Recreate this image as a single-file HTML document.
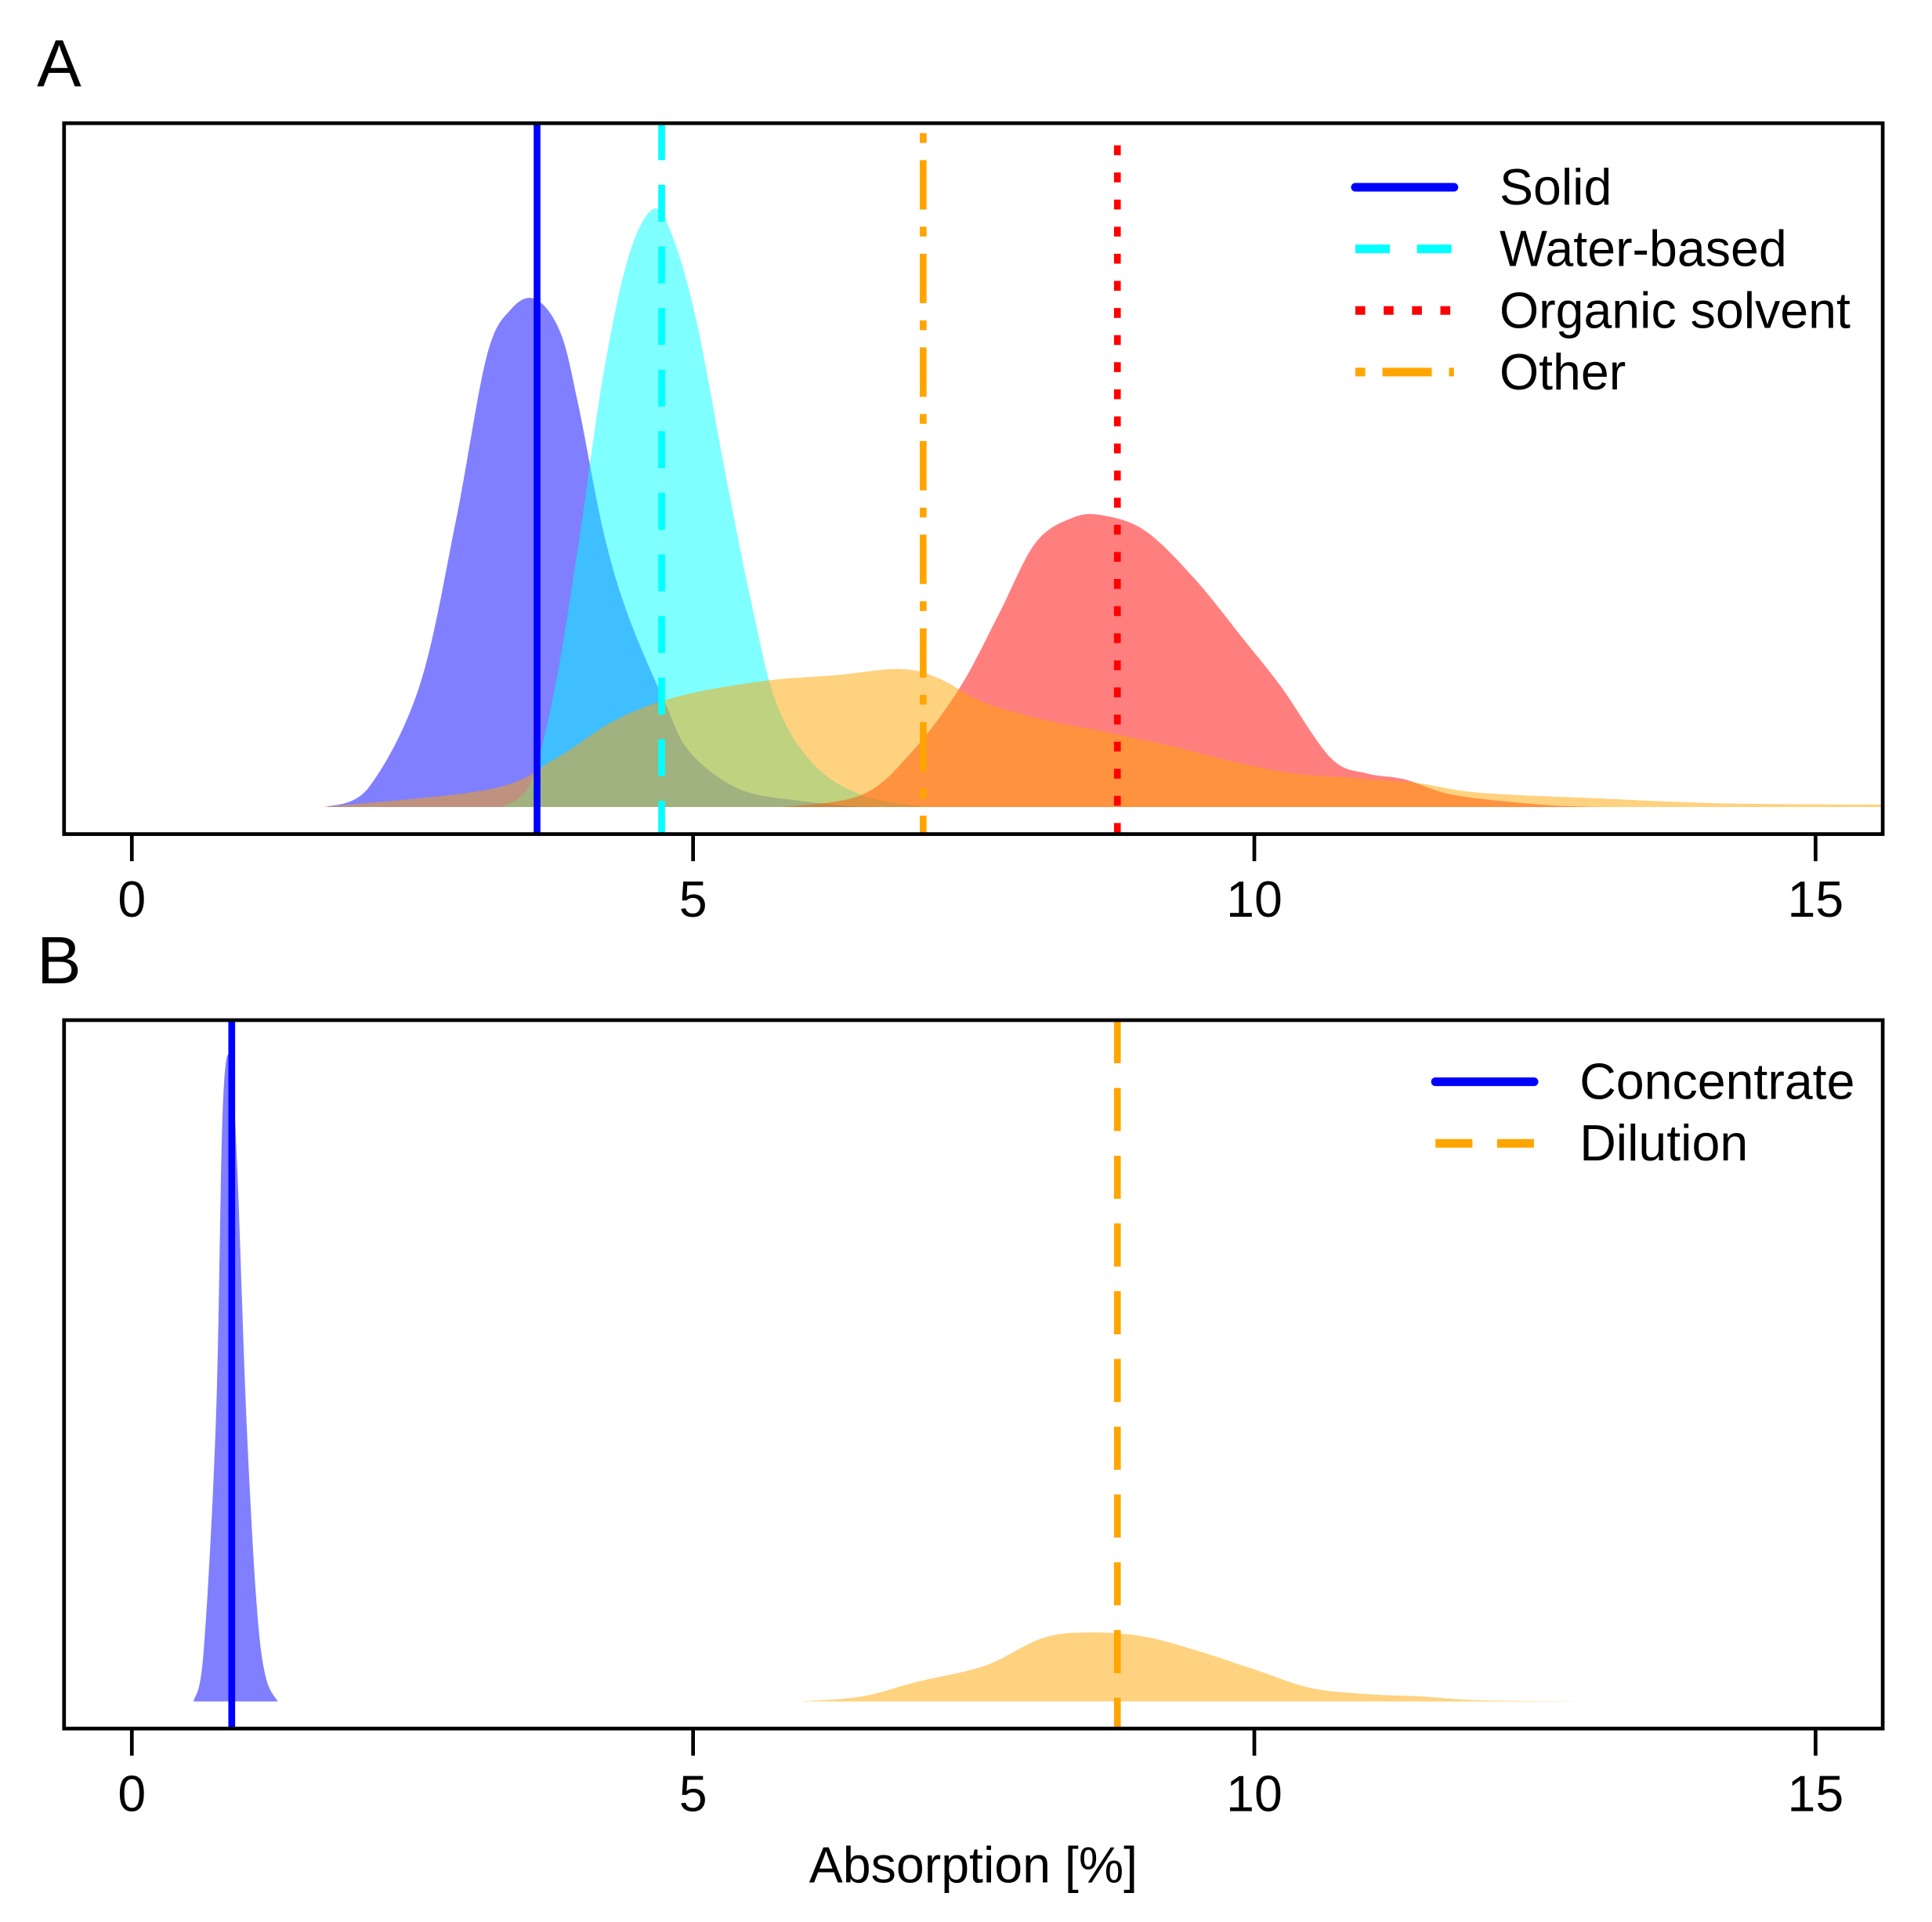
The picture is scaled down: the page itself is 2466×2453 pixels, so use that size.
<!DOCTYPE html>
<html><head><meta charset="utf-8"><style>
html,body{margin:0;padding:0;background:#fff}
svg{display:block}
text{font-family:"Liberation Sans",sans-serif;fill:#000}
</style></head><body>
<svg id="chart" width="2466" height="2453" viewBox="0 0 1568 1560" preserveAspectRatio="none" xmlns="http://www.w3.org/2000/svg"></svg>
<script>
// ---- Panel A data ----
const solidX=[1.73,2.1,2.56,2.89,3.16,3.38,3.6,3.82,3.98,4.2,4.42,4.75,4.97,5.41,5.96,6.5];
const solidY=[0,0.015,0.1,0.24,0.375,0.415,0.423,0.395,0.334,0.23,0.16,0.087,0.046,0.015,0.005,0];
const waterX=[3.3,3.55,3.77,3.98,4.2,4.42,4.64,4.81,5.03,5.3,5.52,5.74,6.07,6.5,7.06];
const waterY=[0,0.02,0.1,0.22,0.36,0.457,0.498,0.477,0.405,0.272,0.17,0.087,0.036,0.01,0];
const organicX=[5.8,6.5,6.95,7.38,7.72,8.05,8.38,8.65,9.03,9.47,9.91,10.24,10.68,11.0,11.34,11.78,12.55,13.1];
const organicY=[0,0.01,0.046,0.1,0.16,0.22,0.241,0.243,0.23,0.19,0.139,0.1,0.041,0.028,0.023,0.01,0.002,0];
const otherX=[1.7,3.2,3.77,4.3,4.86,5.63,6.29,6.84,7.17,7.6,8.16,8.7,9.25,9.8,10.35,10.9,11.45,12.0,13.1,14.2,15.6];
const otherY=[0,0.015,0.04,0.072,0.092,0.105,0.11,0.115,0.108,0.087,0.072,0.062,0.051,0.038,0.028,0.024,0.02,0.012,0.007,0.003,0.002];
const meansA=[3.61,4.72,8.78,7.05];
// ---- Panel B data ----
const concX=[0.55,0.64,0.75,0.81,0.88,0.94,1.02,1.11,1.19,1.3];
const concY=[0,0.41,2.31,4.81,5.21,4.31,2.31,0.81,0.21,0];
const dilX=[5.95,6.5,7.0,7.6,8.1,8.5,9.0,9.5,10.0,10.5,11.0,11.5,12.0,13.0];
const dilY=[0,0.04,0.16,0.29,0.51,0.56,0.53,0.41,0.26,0.11,0.06,0.04,0.01,0];
const meansB=[0.89,8.78];
const ticks=[0,5,10,15];
const tickLabels=["0","5","10","15"];

const NS="http://www.w3.org/2000/svg";
const svg=document.getElementById('chart');
function mk(tag,attrs,parent){const e=document.createElementNS(NS,tag);for(const k in attrs)e.setAttribute(k,attrs[k]);(parent||svg).appendChild(e);return e;}
const xs=v=>107+v*91.1;
const boxL=52,boxR=1528;

function smoothPath(pts,baseY){
  let d='M'+pts[0][0]+','+baseY+' L'+pts[0][0]+','+pts[0][1];
  for(let i=0;i<pts.length-1;i++){
    const p0=pts[Math.max(0,i-1)],p1=pts[i],p2=pts[i+1],p3=pts[Math.min(pts.length-1,i+2)];
    const c1x=p1[0]+(p2[0]-p0[0])/6,c1y=Math.min(baseY,p1[1]+(p2[1]-p0[1])/6);
    const c2x=p2[0]-(p3[0]-p1[0])/6,c2y=Math.min(baseY,p2[1]-(p3[1]-p1[1])/6);
    d+=' C'+c1x+','+c1y+' '+c2x+','+c2y+' '+p2[0]+','+p2[1];
  }
  d+=' L'+pts[pts.length-1][0]+','+baseY+' Z';
  return d;
}

function panel(top,bottom,base,yscale,series,lines,legend,name,letter,letterY){
  const g=mk('g',{});
  
  
  const ys=v=>base-v*yscale;
  series.forEach(s=>{
    const pts=s.x.map((x,i)=>[xs(x),ys(s.y[i])]);
    const p=mk('path',{d:smoothPath(pts,base),fill:s.c,stroke:'none'},g);
    
    
  });
  lines.forEach(l=>{
    const ln=mk('line',{x1:xs(l.v),x2:xs(l.v),y1:l.t||top,y2:bottom,stroke:l.c,'stroke-width':5.5,'stroke-dasharray':l.da||'none'},g);
    
    
  });
  const box=mk('rect',{x:boxL,y:top,width:boxR-boxL,height:bottom-top,fill:'none',stroke:'#000','stroke-width':3},g);
  
  
  ticks.forEach((t,i)=>{
    const tk=mk('line',{x1:xs(t),x2:xs(t),y1:bottom,y2:bottom+22,stroke:'#000','stroke-width':3},g);
    
    
    const tx=mk('text',{x:xs(t),y:bottom+67,'text-anchor':'middle','font-size':41},g);
    tx.textContent=tickLabels[i];
    
    
  });
  legend.items.forEach((it,i)=>{
    const y=legend.y+i*50;
    const ll=mk('line',{x1:legend.x,x2:legend.x+80,y1:y,y2:y,stroke:it.c,'stroke-width':7,'stroke-dasharray':it.da||'none','stroke-linecap':it.cap||'butt'},g);
    
    
    const lt=mk('text',{x:legend.x+117,y:y+14,'font-size':41},g);
    lt.textContent=it.t;
    
    
  });
  const L=mk('text',{x:30,y:letterY,'font-size':54},g);
  L.textContent=letter;
  
  
}

panel(100,677,655,974,[
  {x:solidX,y:solidY,c:'rgba(0,0,255,0.5)',n:'density-solid'},
  {x:waterX,y:waterY,c:'rgba(0,255,255,0.5)',n:'density-water-based'},
  {x:organicX,y:organicY,c:'rgba(255,0,0,0.5)',n:'density-organic-solvent'},
  {x:otherX,y:otherY,c:'rgba(255,165,0,0.5)',n:'density-other'}
],[
  {v:meansA[0],c:'#0000ff',n:'mean-solid'},
  {v:meansA[1],c:'#00ffff',da:'30 20',n:'mean-water-based'},
  {v:meansA[3],c:'#ffa500',da:'8 14 40 14',t:108,n:'mean-other'},
  {v:meansA[2],c:'#ff0000',da:'8 14',t:118,n:'mean-organic-solvent'}
],{x:1100,y:152,items:[
  {t:'Solid',c:'#0000ff',cap:'round'},
  {t:'Water-based',c:'#00ffff',da:'28 22'},
  {t:'Organic solvent',c:'#ff0000',da:'8 15'},
  {t:'Other',c:'#ffa500',da:'8 14 40 14'}
]},'panel-a','A',70);

panel(828,1403,1381,100,[
  {x:concX,y:concY,c:'rgba(0,0,255,0.5)',n:'density-concentrate'},
  {x:dilX,y:dilY,c:'rgba(255,165,0,0.5)',n:'density-dilution'}
],[
  {v:meansB[0],c:'#0000ff',n:'mean-concentrate'},
  {v:meansB[1],c:'#ffa500',da:'35 20',n:'mean-dilution'}
],{x:1165,y:878,items:[
  {t:'Concentrate',c:'#0000ff',cap:'round'},
  {t:'Dilution',c:'#ffa500',da:'30 20'}
]},'panel-b','B',798);

const at=mk('text',{x:790,y:1528,'text-anchor':'middle','font-size':41});
at.textContent='Absorption [%]';


</script>
</body></html>
